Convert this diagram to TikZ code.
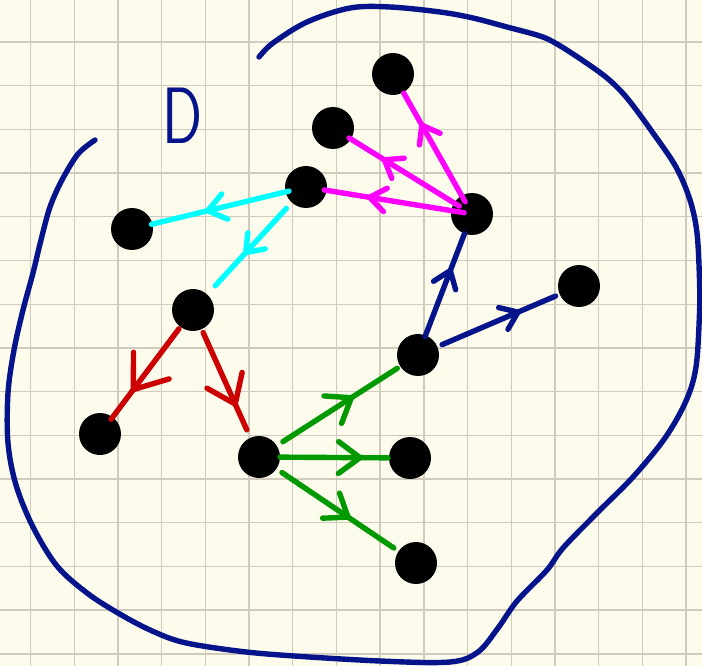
\documentclass[tikz,border=0pt]{standalone}
\usetikzlibrary{calc,decorations.markings}

\definecolor{paper}{RGB}{253,251,236}
\definecolor{gridc}{RGB}{208,203,188}
\definecolor{navy}{RGB}{6,20,140}
\definecolor{mag}{RGB}{255,0,255}
\definecolor{cyn}{RGB}{0,255,255}
\definecolor{rd}{RGB}{204,0,0}
\definecolor{grn}{RGB}{0,153,0}

\begin{document}
\begin{tikzpicture}[x=1pt,y=-1pt,
  dot/.style={circle, fill=black, minimum size=42pt, inner sep=0pt, outer sep=0pt},
  pen/.style={line width=5.4pt, line cap=round, line join=round},
  gridline/.style={draw=gridc, line width=1.4pt},
  % open "V" head placed part-way along an edge: #1 = distance from start, #2 = barb size
  tipv/.style 2 args={postaction={decorate, decoration={markings,
      mark=at position #1 with {\draw[pen] (-#2,0.74*#2) -- (0,0) -- (-#2,-0.74*#2);}}}},
  edgeM/.style={pen, color=mag},
  edgeC/.style={pen, color=cyn},
  edgeR/.style={pen, color=rd},
  edgeG/.style={pen, color=grn},
  edgeB/.style={pen, color=navy},
]
\useasboundingbox (0,0) rectangle (702,666);
\fill[paper] (0,0) rectangle (702,666);

% squared paper
\foreach \i in {0,...,15} \draw[gridline] (30.5+\i*43.7,0) -- (30.5+\i*43.7,666);
\foreach \j in {0,...,14} \draw[gridline] (0,42+\j*43.7) -- (702,42+\j*43.7);

% region boundary (open curve)
\draw[pen, navy] plot[smooth, tension=0.55] coordinates {
  (95,140) (78,154) (62,180) (50,207) (41,240) (33,273) (23,310) (14,350)
  (8,393) (8,443) (16,485) (33,527) (57,566) (87,593) (118,613) (150,630)
  (182,642) (230,650) (280,655) (380,661) (450,662) (478,652) (498,628)
  (517,601) (547,570) (563,548) (597,513) (633,477) (665,438) (686,401)
  (696,367) (699.5,313) (699.5,280) (697,233) (690,200) (676,167) (653,133)
  (627,98) (607,78) (582,60) (557,44) (540,36) (507,27) (473,18) (440,12)
  (390,7) (350,8) (307,22) (273,43) (259,57)};

% region label
\node[text=navy, inner sep=0pt, font=\sffamily\fontsize{80}{80}\selectfont] (lab) at (183,116) {\scalebox{0.74}[1]{D}};

% vertices
\node[dot] (n1)  at (393,74)  {};
\node[dot] (n2)  at (333,128) {};
\node[dot] (n3)  at (306,187) {};
\node[dot] (hub) at (472,214) {};
\node[dot] (n5)  at (132,229) {};
\node[dot] (n6)  at (193,310) {};
\node[dot] (n7)  at (579,286) {};
\node[dot] (n8)  at (418,355) {};
\node[dot] (n9)  at (100,434) {};
\node[dot] (n10) at (259,457) {};
\node[dot] (n11) at (410,458) {};
\node[dot] (n12) at (416,563) {};

% magenta edges out of the hub
\draw[edgeM, tipv={88pt}{16}] ($(hub.center)!14pt!(n1.center)$) -- ($(n1.center)!22pt!(hub.center)$);
\draw[edgeM, tipv={88pt}{16}] ($(hub.center)!15pt!(n2.center)$) -- ($(n2.center)!19pt!(hub.center)$);
\draw[edgeM, tipv={95.8pt}{16}] ($(hub.center)!8pt!(n3.center)$) -- ($(n3.center)!18.5pt!(hub.center)$);

% cyan edges
\draw[edgeC, tipv={83.6pt}{17.5}] ($(n3.center)!17.5pt!(n5.center)$) -- ($(n5.center)!20pt!(n3.center)$);
\draw[edgeC, tipv={60.1pt}{16}] ($(n3.center)!29pt!(n6.center)$) -- ($(n6.center)!33pt!(n3.center)$);

% red edges
\draw[edgeR, tipv={76pt}{30}] ($(n6.center)!23.5pt!(n9.center)$) -- ($(n9.center)!18.4pt!(n6.center)$);
\draw[edgeR, tipv={78.3pt}{26}] ($(n6.center)!24.8pt!(n10.center)$) -- ($(n10.center)!29.8pt!(n6.center)$);

% green edges
\draw[edgeG, tipv={81.3pt}{22}] ($(n10.center)!28.4pt!(n8.center)$) -- ($(n8.center)!24.6pt!(n10.center)$);
\draw[edgeG, tipv={80pt}{21.5}] ($(n10.center)!21pt!(n11.center)$) -- ($(n11.center)!22pt!(n10.center)$);
\draw[edgeG, tipv={79.7pt}{20.5}] ($(n10.center)!27.7pt!(n12.center)$) -- ($(n12.center)!26.8pt!(n10.center)$);

% dark blue edges
\draw[edgeB, tipv={70.7pt}{16}] ($(n8.center)!19.7pt!(hub.center)$) -- ($(hub.center)!21.3pt!(n8.center)$);
\draw[edgeB, tipv={82.6pt}{16}] ($(n8.center)!26.2pt!(n7.center)$) -- ($(n7.center)!25.5pt!(n8.center)$);
\end{tikzpicture}
\end{document}
